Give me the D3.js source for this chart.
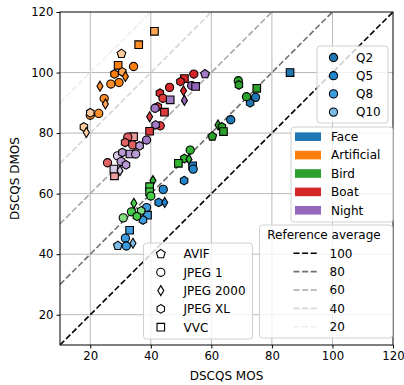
<!DOCTYPE html>
<html><head><meta charset="utf-8">
<script src="https://cdn.jsdelivr.net/npm/d3@7"></script>
<style>body{margin:0;background:#fff}svg{display:block}text{font-family:"DejaVu Sans",sans-serif}</style>
</head><body><svg id="c" width="404" height="385"></svg>
<script>
// ---- data ----
const contents = ["Face","Artificial","Bird","Boat","Night"];
const contentColors = ["#1f77b4","#ff7f0e","#2ca02c","#d62728","#9467bd"];
const codecs = ["AVIF","JPEG 1","JPEG 2000","JPEG XL","VVC"];
const qualities = ["Q2","Q5","Q8","Q10"];
const refAverages = [100,80,60,40,20];
const axisTicks = [20,40,60,80,100,120];
// [codec, quality, MOS, DMOS]
const facePts = [
 ["VVC","Q2",86,100],["JPEG 1","Q2",74.6,91.8],["JPEG XL","Q2",72.8,90],["JPEG 1","Q2",66.4,84.4],
 ["VVC","Q5",53.8,69.2],["JPEG 1","Q5",54,68.1],["JPEG XL","Q5",51,64.3],["JPEG 1","Q5",44.1,61.4],
 ["JPEG XL","Q5",42.6,57.1],["JPEG 2000","Q5",44.6,57.1],["JPEG 1","Q8",38.6,55.4],["VVC","Q8",38.9,52.9],
 ["JPEG XL","Q8",37.4,51.3],["VVC","Q8",33,47.9],["JPEG 1","Q8",31.6,45.3],["AVIF","Q10",29.1,42.8],
 ["JPEG 1","Q8",31.9,42.7],["JPEG 2000","Q10",34.1,43.6]
];
const artificialPts = [
 ["VVC","Q8",41.2,113.6],["VVC","Q5",36,109.2],["AVIF","Q10",30.3,106.2],["VVC","Q2",29.2,102.4],
 ["JPEG 1","Q2",34.3,102],["JPEG XL","Q8",30.6,100.2],["JPEG 2000","Q2",31.6,98.7],["JPEG XL","Q2",28,99.5],
 ["JPEG 1","Q2",29.5,96.7],["JPEG 1","Q5",26.8,96.2],["JPEG 2000","Q5",23.2,95.5],["JPEG 1","Q5",24.6,91.4],
 ["JPEG 2000","Q8",25,89.6],["JPEG 1","Q5",20,85.9],["JPEG XL","Q10",20,86.7],["JPEG 1","Q5",22.8,86.5],
 ["JPEG XL","Q10",17.9,82],["JPEG 2000","Q10",18.7,80.2]
];
const birdPts = [
 ["JPEG 1","Q2",68.9,97.3],["JPEG XL","Q2",69.1,95.9],["VVC","Q2",75,94.8],["JPEG 1","Q2",71.6,92],
 ["JPEG 2000","Q2",62.2,82.7],["JPEG XL","Q2",63.5,82],["VVC","Q2",64,80.5],["AVIF","Q2",60.3,78.9],
 ["JPEG 1","Q5",53,74.4],["JPEG XL","Q5",51.1,71.6],["JPEG 2000","Q5",52.6,71.4],["VVC","Q5",49.1,70],
 ["JPEG 2000","Q5",40.7,64.3],["VVC","Q8",39.6,62.3],["VVC","Q8",39.6,60.6],["JPEG 1","Q8",40,59.2],
 ["JPEG 2000","Q8",34.4,56.8],["JPEG 1","Q8",33.6,54],["JPEG XL","Q10",36.8,54.3],["JPEG XL","Q8",35.4,52.5],
 ["JPEG 1","Q10",30.9,52]
];
const boatPts = [
 ["JPEG 1","Q2",54.2,99.5],["VVC","Q2",51.1,98],["JPEG XL","Q2",49.8,97],["JPEG 2000","Q2",50.8,94],
 ["JPEG 1","Q2",46.2,95.1],["JPEG XL","Q2",43,93.2],["JPEG 1","Q5",44,91.5],["JPEG XL","Q5",42.3,88.7],
 ["VVC","Q5",44.5,86.9],["JPEG 2000","Q5",39.6,85.4],["JPEG 1","Q5",43.1,82.4],["VVC","Q5",39.6,80.6],
 ["VVC","Q10",34.3,78.8],["JPEG 1","Q8",32.4,78.7],["JPEG XL","Q8",31.5,76.9],["JPEG 1","Q8",34,76.1],
 ["JPEG 1","Q8",25.7,70.2],["VVC","Q10",28,65.9]
];
const nightPts = [
 ["AVIF","Q5",57.9,99.5],["JPEG 1","Q2",53.5,95.7],["VVC","Q2",54.8,95.4],["JPEG 2000","Q2",51.1,90.8],
 ["VVC","Q5",46.4,91],["JPEG 1","Q5",41.4,88.2],["JPEG XL","Q5",41.6,82.7],["JPEG 1","Q5",38.6,77.7],
 ["JPEG XL","Q8",36.3,75.8],["JPEG 1","Q10",29,72.5],["JPEG XL","Q8",30.6,73.6],["VVC","Q8",33.1,73.1],
 ["JPEG 1","Q8",35,73.1],["JPEG 1","Q8",30.2,70.6],["JPEG XL","Q8",31.8,69.5],["VVC","Q10",27.8,68.1],
 ["JPEG 2000","Q10",29.8,67.6]
];
const pointSets = [facePts, artificialPts, birdPts, boatPts, nightPts];

// ---- setup ----
const svg = d3.select("#c");
const L=60,T=12,S=333;
const x = d3.scaleLinear([10,120],[L,L+S]);
const y = d3.scaleLinear([10,120],[T+S,T]);
const qLight = {Q2:0, Q5:0.05, Q8:0.14, Q10:0.28};
function qColor(base,q){const h=d3.hsl(base); h.l=Math.min(0.95,h.l+qLight[q]); return h.formatHex();}

// custom symbol types
function poly(n,rot){return {draw(ctx,size){const r=Math.sqrt(size);for(let i=0;i<n;i++){const a=rot+i*2*Math.PI/n;const px=r*Math.sin(a),py=-r*Math.cos(a);i?ctx.lineTo(px,py):ctx.moveTo(px,py);}ctx.closePath();}};}
const thinDiamond={draw(ctx,size){const h=Math.sqrt(size);ctx.moveTo(0,-h);ctx.lineTo(h*0.6,0);ctx.lineTo(0,h);ctx.lineTo(-h*0.6,0);ctx.closePath();}};
const circleT={draw(ctx,size){const r=Math.sqrt(size);ctx.moveTo(r,0);ctx.arc(0,0,r,0,2*Math.PI);}};
const squareT={draw(ctx,size){const r=Math.sqrt(size);ctx.rect(-r,-r,2*r,2*r);}};
const codecSym = {"AVIF":[poly(5,0),4.6*4.6],"JPEG 1":[circleT,4.1*4.1],"JPEG 2000":[thinDiamond,5*5],"JPEG XL":[poly(6,0),4.3*4.3],"VVC":[squareT,3.8*3.8]};
const sym = c => d3.symbol().type(codecSym[c][0]).size(codecSym[c][1])();

// grid
const g = svg.append("g");
g.selectAll(".gx").data(axisTicks.slice(0,-1)).join("line")
 .attr("x1",d=>x(d)).attr("x2",d=>x(d)).attr("y1",T).attr("y2",T+S).attr("stroke","#b0b0b0").attr("stroke-width",0.9);
g.selectAll(".gy").data(axisTicks.slice(0,-1)).join("line")
 .attr("y1",d=>y(d)).attr("y2",d=>y(d)).attr("x1",L).attr("x2",L+S).attr("stroke","#b0b0b0").attr("stroke-width",0.9);

// reference lines: DMOS = MOS + 100 - ref
const refColor = d3.scaleOrdinal(refAverages,["#000000","#707070","#a9a9a9","#d5d5d5","#eeeeee"]);
svg.append("clipPath").attr("id","clip").append("rect").attr("x",L).attr("y",T).attr("width",S).attr("height",S);
const rl = svg.append("g").attr("clip-path","url(#clip)");
rl.selectAll("line").data(refAverages.slice().reverse()).join("line")
 .attr("x1",x(10)).attr("y1",d=>y(10+100-d)).attr("x2",x(120)).attr("y2",d=>y(120+100-d))
 .attr("stroke",d=>refColor(d)).attr("stroke-width",1.6).attr("stroke-dasharray","6,2.6");

// points
const pg = svg.append("g");
pointSets.forEach((pts,i)=>{
  pg.append("g").selectAll("path").data(pts).join("path")
   .attr("d",d=>sym(d[0]))
   .attr("transform",d=>`translate(${x(d[2])},${y(d[3])})`)
   .attr("fill",d=>qColor(contentColors[i],d[1]))
   .attr("stroke","#000").attr("stroke-width",1.1);
});

// frame
svg.append("rect").attr("x",L).attr("y",T).attr("width",S).attr("height",S).attr("fill","none").attr("stroke","#000").attr("stroke-width",1);

// axes
const fs="12px", tfs="11.7px";
const ax = svg.append("g").attr("transform",`translate(0,${T+S})`).call(d3.axisBottom(x).tickValues(axisTicks).tickSize(3.5).tickPadding(3));
const ay = svg.append("g").attr("transform",`translate(${L},0)`).call(d3.axisLeft(y).tickValues(axisTicks).tickSize(3.5).tickPadding(3));
[ax,ay].forEach(a=>{a.select(".domain").remove();a.selectAll("text").style("font-size",tfs).attr("fill","#000").style("font-family","DejaVu Sans");a.selectAll("line").attr("stroke","#000");});
svg.append("text").attr("x",L+S/2).attr("y",380).attr("text-anchor","middle").style("font-size",fs).text("DSCQS MOS");
svg.append("text").attr("transform",`translate(19,${T+S/2}) rotate(-90)`).attr("text-anchor","middle").style("font-size",fs).text("DSCQS DMOS");

// legends
function box(x0,y0,w,h){svg.append("rect").attr("x",x0).attr("y",y0).attr("width",w).attr("height",h).attr("rx",3)
  .attr("fill","#fff").attr("fill-opacity",0.8).attr("stroke","#d0d0d0").attr("stroke-width",1);}
// Q legend
box(317,46,71,77);
const ql = svg.append("g");
qualities.forEach((q,i)=>{
  const yy=57.5+i*18.2;
  ql.append("path").attr("d",sym("JPEG 1")).attr("transform",`translate(333.5,${yy})`).attr("fill",qColor(contentColors[0],q)).attr("stroke","#000").attr("stroke-width",1.1);
  ql.append("text").attr("x",356).attr("y",yy+4.3).style("font-size",fs).text(q);
});
// content legend
box(291,127,102,95);
contents.forEach((c,i)=>{
  const yy=136.7+i*18.4;
  svg.append("rect").attr("x",295).attr("y",yy-4.3).attr("width",26).attr("height",8.6).attr("fill",contentColors[i]);
  svg.append("text").attr("x",331).attr("y",yy+4.3).style("font-size",fs).text(c);
});
// codec legend
box(143.5,243,109,96);
codecs.forEach((c,i)=>{
  const yy=254+i*18.3;
  svg.append("path").attr("d",sym(c)).attr("transform",`translate(160.8,${yy})`).attr("fill","#fff").attr("stroke","#000").attr("stroke-width",1.1);
  svg.append("text").attr("x",183.5).attr("y",yy+4.3).style("font-size",fs).text(c);
});
// reference legend
box(259.5,225,133,113);
svg.append("text").attr("x",324).attr("y",239.3).attr("text-anchor","middle").style("font-size",fs).text("Reference average");
refAverages.forEach((r,i)=>{
  const yy=253.3+i*18.35;
  svg.append("line").attr("x1",293.5).attr("x2",319).attr("y1",yy).attr("y2",yy).attr("stroke",refColor(r)).attr("stroke-width",1.6).attr("stroke-dasharray","6,2.6");
  svg.append("text").attr("x",329.5).attr("y",yy+4.3).style("font-size",fs).text(r);
});
</script></body></html>
